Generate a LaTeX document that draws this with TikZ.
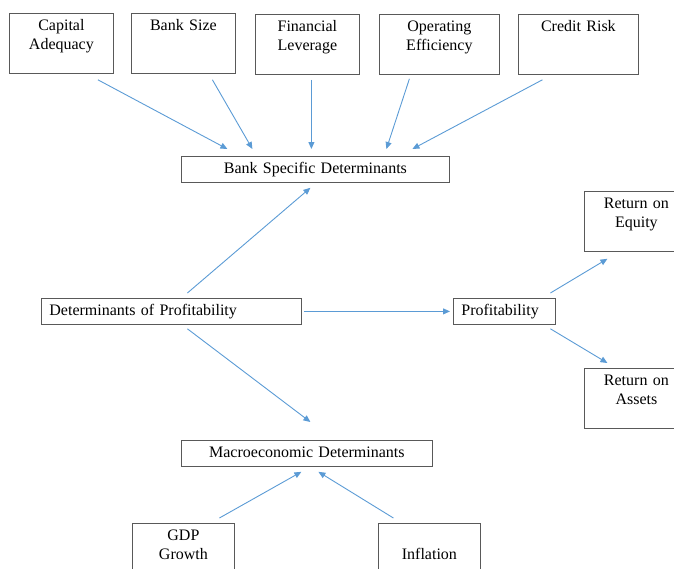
\documentclass[tikz,border=0pt]{standalone}
\usepackage{fontspec}
\setmainfont{Liberation Serif}
\usetikzlibrary{arrows.meta,calc}
\definecolor{linkblue}{HTML}{5B9BD5}

\begin{document}
\begin{tikzpicture}[
    x=1pt, y=-1pt,
    every node/.style={font=\fontsize{16}{19}\selectfont},
    factorbox/.style={draw=black!65, line width=0.8pt, anchor=north west, text width=104pt, align=center, inner xsep=0pt, inner ysep=2pt, text height=15.5pt, text depth=40.5pt},
    barbox/.style={draw=black!65, line width=0.8pt, anchor=north west, inner xsep=8pt, inner ysep=5pt, text height=12pt, text depth=4pt},
    link/.style={draw=linkblue, line width=0.9pt, -{Triangle[length=7pt,width=6pt]}}
]
    \useasboundingbox (0,0) rectangle (674,568);

    % Bank specific factors (top row)
    \node[factorbox] (capad) at (9,13) {Capital\\Adequacy};
    \node[factorbox] (banksize) at (131,13) {Bank Size};
    \node[factorbox] (finlev) at (255,14) {Financial\\Leverage};
    \node[factorbox, text width=120pt] (opeff) at (379,14) {Operating\\Efficiency};
    \node[factorbox, text width=120pt] (credit) at (518,14) {Credit Risk};

    % Middle boxes
    \node[barbox, text width=252pt, align=center] (bsd) at (181,156) {Bank Specific Determinants};
    \node[barbox, text width=244pt, align=left] (dop) at (41,298) {Determinants of Profitability};
    \node[barbox, text width=86pt, align=left] (prof) at (453,298) {Profitability};
    \node[barbox, text width=235pt, align=center] (macro) at (181,440) {Macroeconomic Determinants};

    % Outcomes
    \node[factorbox] (roe) at (584,191) {Return on\\Equity};
    \node[factorbox] (roa) at (584,368) {Return on\\Assets};

    % Macroeconomic factors (bottom row)
    \node[factorbox, text width=102pt] (gdp) at (132,523) {GDP\\Growth};
    \node[factorbox, text width=102pt] (infl) at (378,523) {\strut\\Inflation};

    % Arrows into bank specific determinants
    \draw[link] ($(capad.south)+(36.5,6)$) -- ($(bsd.north)+(-88,-7)$);
    \draw[link] ($(banksize.south)+(29,6)$) -- ($(bsd.north)+(-63,-7)$);
    \draw[link] ($(finlev.south)+(4,5)$) -- ($(bsd.north)+(-4,-7)$);
    \draw[link] ($(opeff.south)+(-30,4)$) -- ($(bsd.north)+(71,-7)$);
    \draw[link] ($(credit.south)+(-36,5)$) -- ($(bsd.north)+(97,-7)$);

    % Determinants of profitability
    \draw[link] ($(dop.north)+(16,-5)$) -- ($(bsd.south)+(-5,5)$);
    \draw[link] ($(dop.south)+(16,4)$) -- ($(macro.north)+(3.5,-18)$);
    \draw[link] ($(dop.east)+(2,0)$) -- ($(prof.west)+(-3,0)$);

    % Profitability measures
    \draw[link] ($(prof.north)+(46,-5)$) -- ($(roe.south)+(-29,7)$);
    \draw[link] ($(prof.south)+(46,4)$) -- ($(roa.north)+(-29,-5)$);

    % Arrows into macroeconomic determinants
    \draw[link] ($(gdp.north)+(36,-5)$) -- ($(macro.south)+(-5.5,5)$);
    \draw[link] ($(infl.north)+(-36,-5)$) -- ($(macro.south)+(11.5,5)$);

\end{tikzpicture}
\end{document}
